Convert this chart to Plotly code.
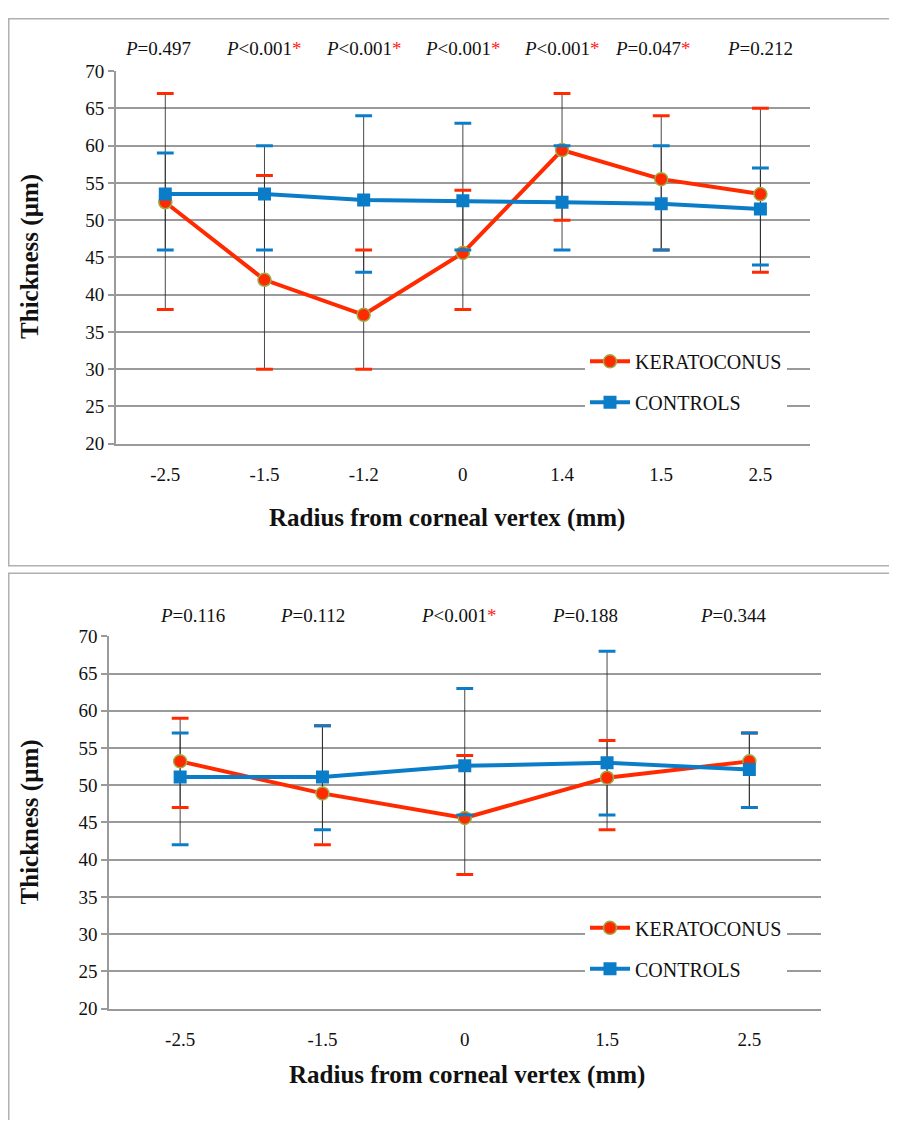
import plotly.graph_objects as go

# ---------------- data ----------------
top_categories = ["-2.5", "-1.5", "-1.2", "0", "1.4", "1.5", "2.5"]
top_kc_mean = [52.4, 42.0, 37.3, 45.6, 59.4, 55.5, 53.5]
top_kc_upper = [67, 56, 46, 54, 67, 64, 65]
top_kc_lower = [38, 30, 30, 38, 50, 46, 43]
top_ct_mean = [53.5, 53.5, 52.7, 52.6, 52.4, 52.2, 51.5]
top_ct_upper = [59, 60, 64, 63, 60, 60, 57]
top_ct_lower = [46, 46, 43, 46, 46, 46, 44]
top_pvalues = ["=0.497", "<0.001*", "<0.001*", "<0.001*", "<0.001*", "=0.047*", "=0.212"]

bot_categories = ["-2.5", "-1.5", "0", "1.5", "2.5"]
bot_kc_mean = [53.2, 48.9, 45.6, 51.0, 53.2]
bot_kc_upper = [59, 58, 54, 56, 57]
bot_kc_lower = [47, 42, 38, 44, 47]
bot_ct_mean = [51.1, 51.1, 52.6, 53.0, 52.1]
bot_ct_upper = [57, 58, 63, 68, 57]
bot_ct_lower = [42, 44, 46, 46, 47]
bot_pvalues = ["=0.116", "=0.112", "<0.001*", "=0.188", "=0.344"]

series_names = ["KERATOCONUS", "CONTROLS"]

# ---------------- style ----------------
OFF = 8                      # page body margin
W, H = 897 - 2 * OFF, 1128 - 2 * OFF
VS, VO = 0.982, 9.0          # observed vertical mapping of the capture
RED = "#FF2A00"
BLUE = "#0A7CC8"
GRID = "#9a9a9a"
SERIF = "Liberation Serif"


def px_x(x):
    return (x - OFF) / W


def px_y(y):
    return 1 - ((y - VO) / VS - OFF) / H


fig = go.Figure()


def add_panel(cats, kc_m, kc_u, kc_l, ct_m, ct_u, ct_l, xa, ya, legend):
    # error bar stems (thin dark lines)
    for m, u, l in [(kc_m, kc_u, kc_l), (ct_m, ct_u, ct_l)]:
        fig.add_trace(go.Scatter(
            x=cats, y=m, mode="markers", xaxis=xa, yaxis=ya,
            marker=dict(size=1, opacity=0), showlegend=False, hoverinfo="skip",
            error_y=dict(type="data", symmetric=False,
                         array=[a - b for a, b in zip(u, m)],
                         arrayminus=[b - c for b, c in zip(m, l)],
                         color="rgba(40,40,40,0.85)", thickness=1, width=0),
        ))
    # series lines with markers
    fig.add_trace(go.Scatter(
        x=cats, y=kc_m, mode="lines+markers", name=series_names[0],
        xaxis=xa, yaxis=ya, legend=legend, legendgroup="kc" + legend,
        line=dict(color=RED, width=4),
        marker=dict(symbol="circle", size=13, color=RED,
                    line=dict(color="#9BAF48", width=1.5)),
    ))
    fig.add_trace(go.Scatter(
        x=cats, y=ct_m, mode="lines+markers", name=series_names[1],
        xaxis=xa, yaxis=ya, legend=legend, legendgroup="ct" + legend,
        line=dict(color=BLUE, width=4),
        marker=dict(symbol="square", size=13, color=BLUE),
    ))
    # caps
    for u, l, c in [(kc_u, kc_l, RED), (ct_u, ct_l, BLUE)]:
        fig.add_trace(go.Scatter(
            x=cats + cats, y=u + l, mode="markers", xaxis=xa, yaxis=ya,
            showlegend=False, hoverinfo="skip",
            marker=dict(symbol="line-ew", size=12, color=c,
                        line=dict(color=c, width=3)),
        ))


add_panel(top_categories, top_kc_mean, top_kc_upper, top_kc_lower,
          top_ct_mean, top_ct_upper, top_ct_lower, "x", "y", "legend")
add_panel(bot_categories, bot_kc_mean, bot_kc_upper, bot_kc_lower,
          bot_ct_mean, bot_ct_upper, bot_ct_lower, "x2", "y2", "legend2")

yax = dict(range=[20, 70], dtick=5, showgrid=True, gridcolor=GRID, gridwidth=1.5,
           showline=True, linecolor=GRID, linewidth=1.5, ticks="outside",
           ticklen=6, tickcolor=GRID, tickwidth=1.5, zeroline=False,
           tickfont=dict(family=SERIF, size=19, color="#111"), fixedrange=True)
xax = dict(type="category", showgrid=False, showline=True, linecolor=GRID,
           linewidth=1.5, ticks="", zeroline=False, ticklabelstandoff=13,
           tickfont=dict(family=SERIF, size=19, color="#111"), fixedrange=True)

legend_common = dict(xanchor="left", yanchor="top", bgcolor="white", borderwidth=0,
                     tracegroupgap=12, traceorder="grouped", itemwidth=40,
                     font=dict(family=SERIF, size=20, color="#111"))

fig.update_layout(
    width=W, height=H, autosize=False,
    margin=dict(l=0, r=0, t=0, b=0),
    paper_bgcolor="white", plot_bgcolor="white",
    xaxis=dict(xax, domain=[px_x(115.7), px_x(810)], anchor="y",
               categoryorder="array", categoryarray=top_categories,
               range=[-0.5, len(top_categories) - 0.5]),
    yaxis=dict(yax, domain=[px_y(443), px_y(70)], anchor="x"),
    xaxis2=dict(xax, domain=[px_x(109), px_x(820.5)], anchor="y2",
                categoryorder="array", categoryarray=bot_categories,
                range=[-0.5, len(bot_categories) - 0.5]),
    yaxis2=dict(yax, domain=[px_y(1008.3), px_y(635.7)], anchor="x2"),
    legend=dict(legend_common, x=px_x(585), y=px_y(341)),
    legend2=dict(legend_common, x=px_x(585), y=px_y(908)),
    showlegend=True,
)


def p_text(s):
    rel = s[0]
    rest = s[1:]
    rel_html = "&lt;" if rel == "<" else "="
    star = ""
    if rest.endswith("*"):
        rest = rest[:-1]
        star = "<span style='color:#FF2020'>*</span>"
    return "<i>P</i>" + rel_html + rest + star


pfont = dict(family=SERIF, size=19, color="#111")
annotations = []
top_shift = [-7, 0, 0, 0, 0, -8, 0]
for i, p in enumerate(top_pvalues):
    annotations.append(dict(x=i, y=px_y(47), xref="x", yref="paper",
                            xanchor="center", yanchor="middle", xshift=top_shift[i],
                            text=p_text(p), showarrow=False, font=pfont))
bot_shift = [12, -10, -6, -22, -16]
for i, p in enumerate(bot_pvalues):
    annotations.append(dict(x=i, y=px_y(615), xref="x2", yref="paper",
                            xanchor="center", yanchor="middle", xshift=bot_shift[i],
                            text=p_text(p), showarrow=False, font=pfont))

title_font = dict(family=SERIF, size=25, color="#111")
annotations += [
    dict(x=px_x(447), y=px_y(517), xref="paper", yref="paper", showarrow=False,
         xanchor="center", yanchor="middle",
         text="<b>Radius from corneal vertex (mm)</b>", font=title_font),
    dict(x=px_x(467), y=px_y(1075), xref="paper", yref="paper", showarrow=False,
         xanchor="center", yanchor="middle",
         text="<b>Radius from corneal vertex (mm)</b>", font=title_font),
    dict(x=px_x(30), y=px_y(256), xref="paper", yref="paper", showarrow=False,
         xanchor="center", yanchor="middle",
         text="<b>Thickness (µm)</b>", textangle=-90, font=title_font),
    dict(x=px_x(30), y=px_y(822), xref="paper", yref="paper", showarrow=False,
         xanchor="center", yanchor="middle",
         text="<b>Thickness (µm)</b>", textangle=-90, font=title_font),
]
fig.update_layout(annotations=annotations)

# panel frames (kept just inside the figure's own area)
fx0 = 0.75 / W
fig.update_layout(shapes=[
    dict(type="rect", xref="paper", yref="paper",
         x0=fx0, x1=1.02, y0=px_y(565), y1=1 - 0.75 / H,
         line=dict(color="#b0b0b0", width=1.5)),
    dict(type="rect", xref="paper", yref="paper",
         x0=fx0, x1=1.02, y0=-0.02, y1=px_y(572.5),
         line=dict(color="#b0b0b0", width=1.5)),
])

fig.write_html("out.html")
